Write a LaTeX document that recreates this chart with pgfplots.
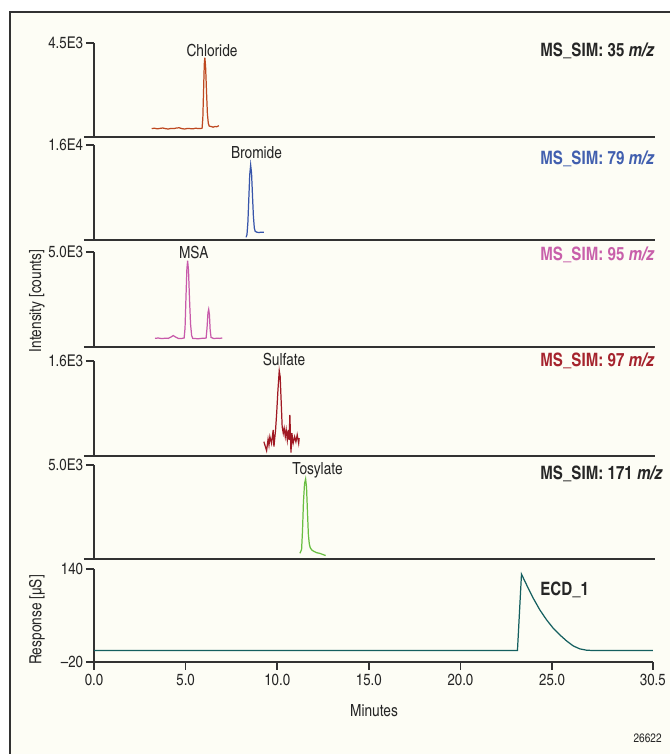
\documentclass[border=0pt]{standalone}
\usepackage{pgfplots}
\pgfplotsset{compat=1.18}
\usepackage{fontspec}
\setmainfont{texgyreheroscn}[Extension=.otf, UprightFont=*-regular, BoldFont=*-bold, ItalicFont=*-italic, BoldItalicFont=*-bolditalic]

\definecolor{bgcream}{RGB}{253,253,245}
\definecolor{axgray}{RGB}{50,50,50}
\definecolor{chl}{RGB}{190,72,32}
\definecolor{brm}{RGB}{55,85,170}
\definecolor{msa}{RGB}{200,90,170}
\definecolor{sul}{RGB}{160,25,35}
\definecolor{tos}{RGB}{105,190,65}
\definecolor{ecd}{RGB}{20,95,95}
\definecolor{lblblue}{RGB}{65,95,175}
\definecolor{lblpink}{RGB}{200,95,170}
\definecolor{lblred}{RGB}{165,35,45}

\pgfplotsset{
  common/.style={
    scale only axis, width=11.18cm, xmin=0, xmax=30.5,
    scaled y ticks=false, scaled x ticks=false,
    axis line style={axgray, line width=0.85pt, -},
    every tick/.style={axgray, line width=0.85pt},
    tick align=outside, major tick length=0.16cm,
    ticklabel style={font=\fontsize{9.2}{10}\selectfont, text=black!85},
    yticklabel style={inner sep=1.5pt},
    clip=false, anchor=south west,
    every axis plot/.append style={line width=0.7pt, mark=none},
  },
  panel/.style={common,
    axis y line*=left, axis x line=none, xtick=\empty, ymin=0,
  },
}
\newcommand{\sep}{\draw[axgray, line width=0.85pt] (rel axis cs:-0.018,0) -- (rel axis cs:1.004,0);}

\begin{document}
\begin{tikzpicture}
\begin{scope}[x=0.02cm,y=-0.02cm]
  \useasboundingbox (0,0) rectangle (670,754);
  \fill[white] (0,0) rectangle (670,754);
  \fill[bgcream] (10,12) rectangle (670,754);
  \draw[axgray, line width=0.7pt] (10,754) -- (10,12) -- (670,12);
\end{scope}

% Chloride
\begin{axis}[panel, at={(1.88cm,-2.74cm)}, height=1.88cm, ymax=4500,
  ytick={4500}, yticklabels={4.5E3}]
\addplot[chl] coordinates {
 (3.15,400)(3.30,420)(3.45,390)(3.60,410)(3.75,430)(3.90,400)(4.05,380)
 (4.20,410)(4.35,400)(4.50,430)(4.65,440)(4.80,400)(4.95,380)(5.10,410)
 (5.25,400)(5.40,390)(5.55,420)(5.70,400)(5.85,410)(5.90,420)(5.94,900)
 (5.98,2200)(6.02,3500)(6.05,3800)(6.09,3400)(6.14,2200)(6.19,1100)
 (6.24,650)(6.29,520)(6.40,500)(6.50,470)(6.60,500)(6.70,490)(6.82,540)
};
\sep
\end{axis}

% Bromide
\begin{axis}[panel, at={(1.88cm,-4.80cm)}, height=1.90cm, ymax=16000,
  ytick={16000}, yticklabels={1.6E4}]
\addplot[brm] coordinates {
 (8.30,450)(8.35,900)(8.40,3000)(8.45,7000)(8.50,11000)(8.55,12630)
 (8.60,11200)(8.65,7500)(8.70,4000)(8.75,2000)(8.80,1450)(8.90,1300)
 (9.00,1250)(9.10,1300)(9.27,1300)
};
\sep
\end{axis}

% MSA
\begin{axis}[panel, at={(1.88cm,-6.94cm)}, height=1.90cm, ymax=5000,
  ytick={5000}, yticklabels={5.0E3}]
\addplot[msa] coordinates {
 (3.33,450)(3.50,470)(3.70,440)(3.90,460)(4.05,450)(4.20,520)(4.33,600)
 (4.45,520)(4.60,450)(4.75,440)(4.92,470)(4.97,1000)(5.02,2600)(5.07,4100)
 (5.11,4540)(5.16,4000)(5.21,2600)(5.27,1200)(5.33,600)(5.39,450)(5.55,440)
 (5.70,430)(5.85,450)(6.05,460)(6.12,470)(6.17,1000)(6.22,1800)(6.26,1980)
 (6.30,1700)(6.34,900)(6.39,500)(6.55,440)(6.70,460)(6.85,450)(7.00,470)
};
\sep
\end{axis}

% Sulfate
\begin{axis}[panel, at={(1.88cm,-9.12cm)}, height=1.90cm, ymax=1600,
  ytick={1600}, yticklabels={1.6E3}]
\addplot[sul] coordinates {
 (9.27,240)(9.42,89)(9.50,280)(9.55,180)(9.60,325)(9.69,213)(9.78,438)
 (9.82,157)(9.91,438)(9.97,719)(10.04,1111)(10.11,1436)(10.16,1335)
 (10.22,887)(10.27,493)(10.33,382)(10.38,466)(10.44,325)(10.49,438)
 (10.55,270)(10.60,438)(10.65,270)(10.69,690)(10.75,56)(10.80,382)
 (10.87,213)(10.95,325)(11.02,240)(11.09,354)(11.17,213)(11.20,298)
};
\sep
\end{axis}

% Tosylate
\begin{axis}[panel, at={(1.88cm,-11.18cm)}, height=1.88cm, ymax=5000,
  ytick={5000}, yticklabels={5.0E3}]
\addplot[tos] coordinates {
 (11.24,300)(11.33,500)(11.38,1500)(11.43,3000)(11.49,4000)(11.55,4255)
 (11.60,3800)(11.65,2500)(11.70,1300)(11.75,800)(11.80,600)(11.88,480)
 (12.00,400)(12.15,330)(12.30,300)(12.45,250)(12.64,180)
};
\sep
\end{axis}

% ECD
\begin{axis}[common, at={(1.88cm,-13.24cm)}, height=1.86cm,
  axis x line*=bottom, axis y line*=left, ymin=-20, ymax=140,
  ytick={-20,140}, yticklabels={--20,140},
  xtick={0,5,10,15,20,25,30.5},
  xticklabels={0.0,5.0,10.0,15.0,20.0,25.0,30.5},
  xticklabel style={inner sep=2pt}]
\addplot[ecd] coordinates {
 (0,-0.5)(23.11,-0.5)(23.33,130.9)(23.61,112.5)(23.97,89.6)(24.33,69.5)
 (24.70,52.3)(25.06,38)(25.42,26.5)(25.79,16.1)(26.15,7.5)(26.51,2.4)
 (26.88,0.1)(27.20,-0.4)(30.5,-0.5)
};
\end{axis}

\begin{scope}[x=0.02cm,y=-0.02cm, every node/.style={inner sep=0pt, text=black!85}]
  \fontsize{9.5}{11}\selectfont
  \node[anchor=base] at (212,56.5) {Chloride};
  \node[anchor=base] at (256.5,158.3) {Bromide};
  \node[anchor=base] at (193.8,258.3) {MSA};
  \node[anchor=base] at (284,365) {Sulfate};
  \node[anchor=base] at (317.5,474.5) {Tosylate};
  \node[anchor=base west, font=\fontsize{10.5}{12}\selectfont\bfseries] at (540,56.7) {MS\_SIM: 35 \textit{m/z}};
  \node[anchor=base west, font=\fontsize{10.5}{12}\selectfont\bfseries, text=lblblue] at (540,164) {MS\_SIM: 79 \textit{m/z}};
  \node[anchor=base west, font=\fontsize{10.5}{12}\selectfont\bfseries, text=lblpink] at (540,260.7) {MS\_SIM: 95 \textit{m/z}};
  \node[anchor=base west, font=\fontsize{10.5}{12}\selectfont\bfseries, text=lblred] at (540,366.7) {MS\_SIM: 97 \textit{m/z}};
  \node[anchor=base west, font=\fontsize{10.5}{12}\selectfont\bfseries] at (540,479) {MS\_SIM: 171 \textit{m/z}};
  \node[anchor=base west, font=\fontsize{10.5}{12}\selectfont\bfseries] at (540,595) {ECD\_1};
  \node[rotate=90] at (37,301) {Intensity [counts]};
  \node[rotate=90] at (37,620) {Response [µS]};
  \node[anchor=base] at (374,716) {Minutes};
  \node[anchor=base east, font=\fontsize{7}{8}\selectfont] at (662,742) {26622};
\end{scope}
\end{tikzpicture}
\end{document}
